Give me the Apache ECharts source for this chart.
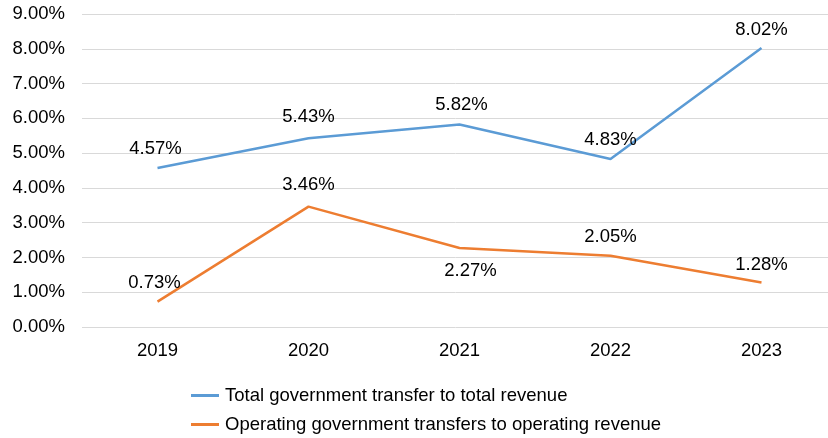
<!DOCTYPE html>
<html><head><meta charset="utf-8">
<script src="https://cdn.jsdelivr.net/npm/echarts@6/dist/echarts.min.js"></script>
<style>html,body{margin:0;padding:0;background:#fff}#c{width:828px;height:438px}</style>
</head><body><div id="c"></div>
<script>
const categories = ['2019', '2020', '2021', '2022', '2023'];
const totalTransfer = [4.57, 5.43, 5.82, 4.83, 8.02];
const operatingTransfer = [0.73, 3.46, 2.27, 2.05, 1.28];
const seriesNames = ['Total government transfer to total revenue', 'Operating government transfers to operating revenue'];
const yTicks = { min: 0, max: 9, interval: 1 };

// label placement (style only)
const totalLabelPlace = [
  { position: 'top', distance: 10, offset: [-2, 0] },
  { position: 'top', distance: 12, offset: [0, 0] },
  { position: 'top', distance: 10, offset: [2, 0] },
  { position: 'top', distance: 10, offset: [0, 0] },
  { position: 'top', distance: 9, offset: [0, 0] }
];
const operLabelPlace = [
  { position: 'top', distance: 9, offset: [-3, 0] },
  { position: 'top', distance: 12, offset: [0, 0] },
  { position: 'bottom', distance: 13, offset: [11, 0] },
  { position: 'top', distance: 9, offset: [0, 0] },
  { position: 'top', distance: 8, offset: [0, 0] }
];

function build(vals, places) {
  return vals.map((v, i) => ({ value: v, label: Object.assign({ show: true }, places[i]) }));
}

const chart = echarts.init(document.getElementById('c'));
const font = 'Liberation Sans, Arial, sans-serif';
const fs = 18.5;
const labelCfg = { show: true, fontSize: fs, color: '#000', fontFamily: font, formatter: p => p.value.toFixed(2) + '%' };
chart.setOption({
  animation: false,
  textStyle: { fontFamily: font },
  grid: { left: 82, width: 755, top: 14, bottom: 111, containLabel: false, outerBoundsMode: 'none' },
  legend: {
    orient: 'vertical', left: 191, top: 386, height: 70, padding: 0, itemWidth: 28, itemHeight: 3, itemGap: 10,
    icon: 'rect',
    textStyle: { fontSize: fs, color: '#000', fontFamily: font, padding: [0, 0, 0, 1] },
    data: seriesNames
  },
  xAxis: {
    type: 'category', data: categories, boundaryGap: true,
    axisLine: { show: false }, axisTick: { show: false },
    axisLabel: { fontSize: fs, color: '#000', margin: 14, fontFamily: font }
  },
  yAxis: {
    type: 'value', min: yTicks.min, max: yTicks.max, interval: yTicks.interval,
    axisLabel: { fontSize: fs, color: '#000', margin: 17, fontFamily: font, formatter: v => v.toFixed(2) + '%' },
    splitLine: { lineStyle: { color: '#D9D9D9', width: 1 } },
    axisLine: { show: false }, axisTick: { show: false }
  },
  series: [
    {
      name: seriesNames[0], type: 'line', symbol: 'circle', symbolSize: 0, showSymbol: true,
      data: build(totalTransfer, totalLabelPlace),
      lineStyle: { color: '#5B9BD5', width: 2.5 }, itemStyle: { color: '#5B9BD5' },
      label: labelCfg
    },
    {
      name: seriesNames[1], type: 'line', symbol: 'circle', symbolSize: 0, showSymbol: true,
      data: build(operatingTransfer, operLabelPlace),
      lineStyle: { color: '#ED7D31', width: 2.5 }, itemStyle: { color: '#ED7D31' },
      label: labelCfg
    }
  ]
});
</script></body></html>
